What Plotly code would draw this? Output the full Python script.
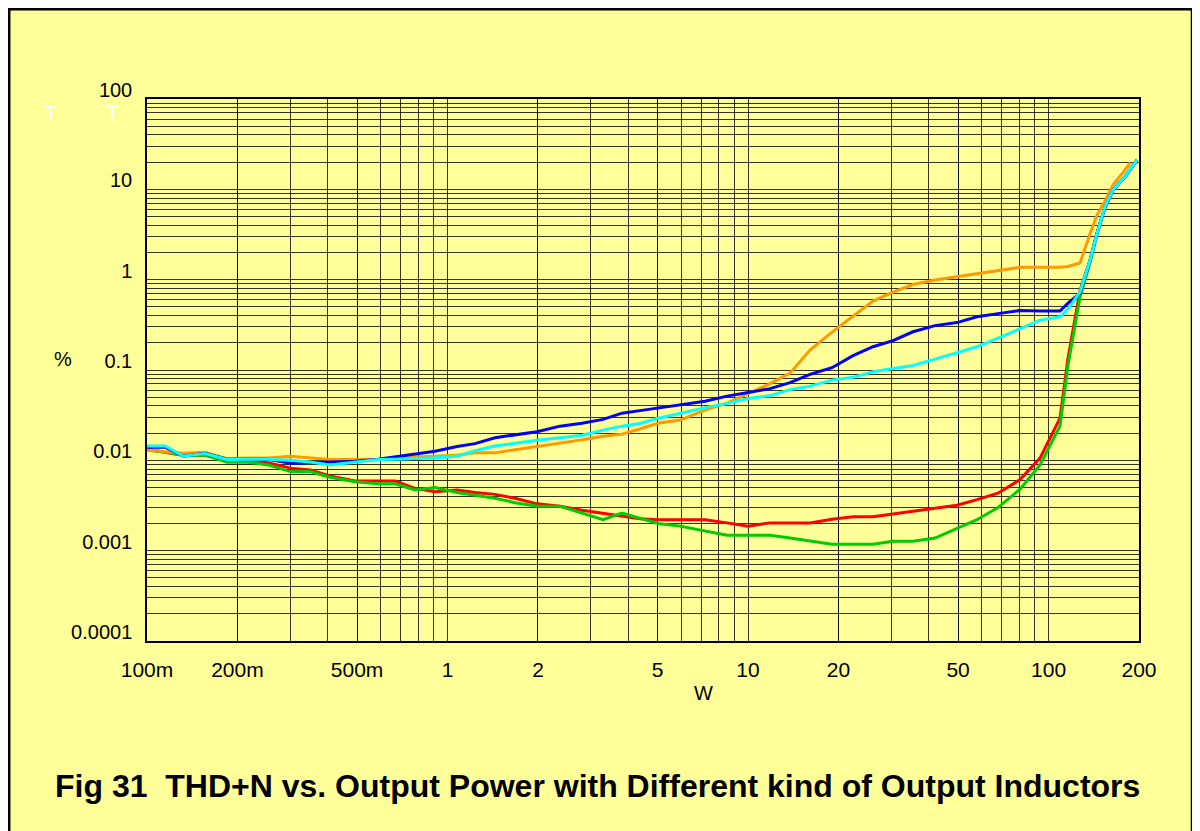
import plotly.graph_objects as go

# Output power (W)
power_w = [0.1, 0.115, 0.132, 0.156, 0.185, 0.217, 0.253, 0.3, 0.349, 0.406,
           0.492, 0.587, 0.669, 0.78, 0.909, 1.076, 1.235, 1.439, 1.677, 1.985,
           2.368, 2.803, 3.293, 3.808, 4.371, 5.018, 5.937, 7.194, 8.515, 10.0,
           11.84, 13.8, 16.08, 19.03, 22.36, 26.06, 30.38, 35.4, 41.9, 49.6,
           57.8, 67.9, 80.4, 93.7, 109.2, 116.1, 127.3, 137.5, 145, 154.2,
           163.9, 179.7, 197]
power_orange = power_w[:-1] + [187]

# THD+N (%)
thd_red = [0.0133, 0.0123, 0.0114, 0.0114, 0.0100, 0.0098, 0.0094, 0.0082, 0.0078, 0.0067,
           0.0059, 0.0059, 0.0059, 0.0049, 0.0045, 0.0047, 0.0044, 0.0042, 0.0038, 0.0033,
           0.0031, 0.0028, 0.0026, 0.0024, 0.00226, 0.0022, 0.0022, 0.0022, 0.00203, 0.00187,
           0.00203, 0.00203, 0.00203, 0.00223, 0.00237, 0.00237, 0.00254, 0.00269, 0.00292, 0.00319,
           0.00367, 0.00433, 0.00612, 0.0106, 0.0293, 0.135, 0.76, 1.65, 3.28, 6.37,
           9.83, 13.8, 21.1]
thd_green = [0.0130, 0.0123, 0.0114, 0.0114, 0.0095, 0.0095, 0.0089, 0.0075, 0.0075, 0.0065,
             0.0058, 0.0055, 0.0055, 0.0047, 0.0050, 0.0044, 0.0041, 0.0038, 0.0034, 0.0031,
             0.0031, 0.0026, 0.0022, 0.0026, 0.00226, 0.0020, 0.00187, 0.00164, 0.00148, 0.00148,
             0.00148, 0.00138, 0.00127, 0.00118, 0.00118, 0.00118, 0.00127, 0.00127, 0.00138, 0.00177,
             0.0022, 0.0030, 0.0048, 0.0089, 0.0239, 0.113, 0.641, 1.55, 3.20, 6.37,
             9.83, 13.7, 21.1]
thd_orange = [0.0130, 0.0126, 0.0120, 0.0123, 0.0104, 0.0106, 0.0106, 0.0111, 0.0106, 0.0102,
              0.0102, 0.0102, 0.0106, 0.0109, 0.0111, 0.0114, 0.0121, 0.0121, 0.0131, 0.0141,
              0.0155, 0.0169, 0.0185, 0.0195, 0.0222, 0.0258, 0.0279, 0.0360, 0.0430, 0.0547,
              0.0707, 0.0923, 0.166, 0.263, 0.395, 0.580, 0.729, 0.883, 0.990, 1.08,
              1.17, 1.25, 1.37, 1.37, 1.37, 1.40, 1.53, 3.25, 5.19, 7.42,
              11.2, 16.4, 19.7]
thd_blue = [0.0140, 0.0140, 0.0111, 0.0120, 0.0103, 0.0103, 0.0103, 0.0093, 0.0094, 0.0096,
            0.0098, 0.0103, 0.0109, 0.0117, 0.0126, 0.0142, 0.0153, 0.0178, 0.0190, 0.0207,
            0.0239, 0.0258, 0.0284, 0.0333, 0.0355, 0.0378, 0.0408, 0.0452, 0.0514, 0.0569,
            0.0622, 0.0725, 0.0894, 0.106, 0.144, 0.181, 0.211, 0.265, 0.310, 0.335,
            0.388, 0.421, 0.455, 0.450, 0.450, 0.550, 0.705, 1.65, 3.28, 6.37,
            9.83, 13.8, 21.1]
thd_cyan = [0.0144, 0.0144, 0.0111, 0.0119, 0.0102, 0.0103, 0.0103, 0.0100, 0.0096, 0.0089,
            0.0096, 0.0102, 0.0103, 0.0104, 0.0107, 0.0111, 0.0128, 0.0144, 0.0155, 0.0167,
            0.0178, 0.0190, 0.0216, 0.0239, 0.0256, 0.0293, 0.0330, 0.0383, 0.0427, 0.0483,
            0.0521, 0.0607, 0.0663, 0.0773, 0.0829, 0.0955, 0.104, 0.112, 0.132, 0.155,
            0.181, 0.225, 0.289, 0.357, 0.388, 0.473, 0.735, 1.65, 3.25, 6.45,
            9.83, 13.8, 21.1]

x_tickvals = [0.1, 0.2, 0.5, 1, 2, 5, 10, 20, 50, 100, 200]
x_ticktext = ["100m", "200m", "500m", "1", "2", "5", "10", "20", "50", "100", "200"]
y_tickvals = [0.0001, 0.001, 0.01, 0.1, 1, 10, 100]
y_ticktext = ["0.0001", "0.001", "0.01", "0.1", "1", "10", "100"]

title_text = "Fig 31  THD+N vs. Output Power with Different kind of Output Inductors"

YELLOW = "#FFFF99"
GRID = "rgba(0,0,0,0.8)"
FONT = "Liberation Sans, Arial, sans-serif"

x_minor = [m * 10 ** k for k in range(-1, 3) for m in range(2, 10) if m * 10 ** k < 200]
y_minor = [m * 10.0 ** k for k in range(-4, 2) for m in range(2, 10)]

fig = go.Figure()
series = [
    (power_w, thd_red, "#FF0000"),
    (power_w, thd_green, "#00CC00"),
    (power_orange, thd_orange, "#FF9900"),
    (power_w, thd_blue, "#0000FF"),
    (power_w, thd_cyan, "#00FFFF"),
]
for xs, ys, col in series:
    fig.add_trace(go.Scatter(x=xs, y=ys, mode="lines",
                             line=dict(color=col, width=3), showlegend=False))

fig.update_xaxes(
    type="log", range=[-1, 2.30103],
    tickmode="array", tickvals=x_tickvals, ticktext=x_ticktext,
    ticks="", ticklabelstandoff=9,
    showgrid=True, gridcolor=GRID, gridwidth=1,
    minor=dict(tickmode="array", tickvals=x_minor, showgrid=True,
               gridcolor=GRID, gridwidth=1, ticks=""),
    showline=True, linecolor="black", linewidth=1.5, mirror=True,
    zeroline=False,
    tickfont=dict(family=FONT, size=21, color="black"),
)
fig.update_yaxes(
    type="log", range=[-4, 2],
    tickmode="array", tickvals=y_tickvals, ticktext=y_ticktext,
    ticks="", ticklabelposition="outside top", ticklabelstandoff=9,
    ticklabelshift=5,
    showgrid=True, gridcolor=GRID, gridwidth=1,
    minor=dict(tickmode="array", tickvals=y_minor, showgrid=True,
               gridcolor=GRID, gridwidth=1, ticks=""),
    showline=True, linecolor="black", linewidth=1.5, mirror=True,
    zeroline=False,
    tickfont=dict(family=FONT, size=20, color="black"),
)

fig.add_shape(type="rect", xref="paper", yref="paper",
              x0=-0.1389, x1=1.0534, y0=-0.40, y1=1.1656,
              line=dict(color="black", width=2.5), fillcolor=YELLOW, layer="below")

ann_common = dict(xref="paper", yref="paper", showarrow=False,
                  xanchor="center", yanchor="middle")
fig.add_annotation(text="%", x=-0.0847, y=0.5203,
                   font=dict(family=FONT, size=20, color="black"), **ann_common)
fig.add_annotation(text="W", x=0.5605, y=-0.0959,
                   font=dict(family=FONT, size=20, color="black"), **ann_common)
fig.add_annotation(text="T", x=-0.0968, y=0.9742,
                   font=dict(family=FONT, size=21, color="white"), **ann_common)
fig.add_annotation(text="T", x=-0.0343, y=0.9742,
                   font=dict(family=FONT, size=21, color="white"), **ann_common)
fig.add_annotation(text="<b>" + title_text + "</b>", x=0.4546, y=-0.2675,
                   font=dict(family=FONT, size=32, color="black"), **ann_common)

fig.update_layout(
    width=1192, height=823,
    margin=dict(l=139, r=61, t=91, b=190),
    paper_bgcolor="white", plot_bgcolor=YELLOW,
    showlegend=False,
)

fig.write_html("out.html")
